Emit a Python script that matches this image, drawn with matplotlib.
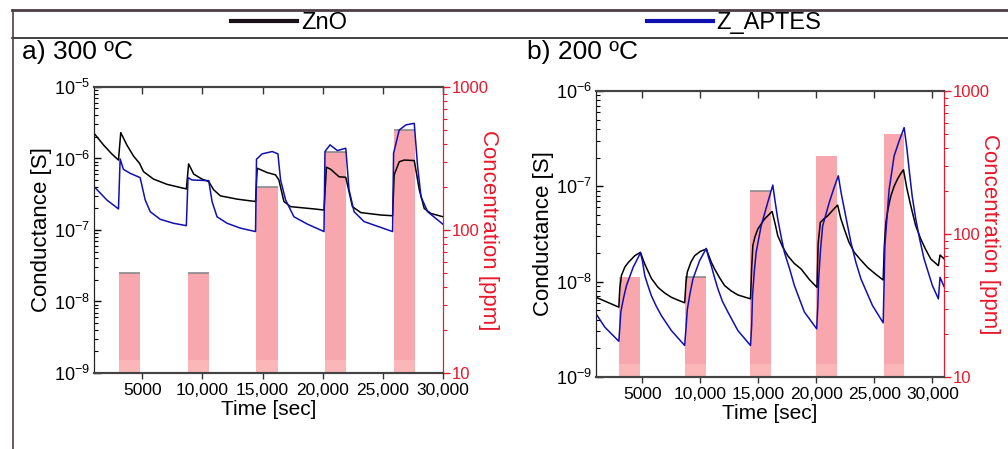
import matplotlib
matplotlib.use("Agg")
import matplotlib.pyplot as plt
from matplotlib.lines import Line2D
from matplotlib.ticker import LogLocator, NullFormatter, FixedLocator
import numpy as np

plt.rcParams['font.family'] = ['Liberation Sans', 'DejaVu Sans']
plt.rcParams['mathtext.fontset'] = 'custom'
plt.rcParams['mathtext.rm'] = 'Liberation Sans'

RED = '#e8192c'
BAR = '#f9a7ae'
BAR_LOW = '#fbb6b8'

# gas pulses (start time [s], concentration [ppm])
pulse_start_a = [3100, 8800, 14500, 20200, 25900]
pulse_start_b = [3000, 8700, 14300, 20000, 25800]
pulse_width = 1750
pulse_ppm = [50, 50, 200, 350, 500]
pulse_low_ppm = 12.3
top_line_a = [True, True, True, True, True]
top_line_b = [False, True, True, False, False]

# a) 300 C
t_a_zno = [1000, 1780, 2470, 3030, 3220, 3720, 4280, 4780, 5110, 5940, 7060, 8670,
           8860, 9280, 9970, 10530, 10940, 11500, 12890, 14420,
           14560, 15390, 16080, 16360, 16780, 17330, 19280, 20110,
           20310, 20670, 21360, 21920, 22470, 23170, 24830, 25810,
           25940, 26360, 26780, 27610, 28030, 28440, 29000, 30000]
g_a_zno = [2.25e-6, 1.55e-6, 1.16e-6, 9.5e-7, 2.3e-6, 1.55e-6, 1.08e-6, 8.55e-7, 6.55e-7, 5.15e-7, 4.35e-7, 3.75e-7,
           8.4e-7, 6.05e-7, 5.15e-7, 4.75e-7, 3.65e-7, 3.0e-7, 2.7e-7, 2.5e-7,
           7.3e-7, 6.35e-7, 5.9e-7, 5.0e-7, 2.5e-7, 2.12e-7, 1.97e-7, 1.9e-7,
           7.55e-7, 7.05e-7, 5.55e-7, 5.45e-7, 2.12e-7, 1.75e-7, 1.62e-7, 1.58e-7,
           5.9e-7, 9.0e-7, 9.5e-7, 9.35e-7, 3.65e-7, 2.0e-7, 1.7e-7, 1.53e-7]

t_a_apt = [1000, 2060, 3030, 3170, 3440, 4000, 4830, 5250, 5670, 6500, 7610, 8670,
           8810, 9140, 10530, 10810, 11220, 12060, 13170, 14420,
           14500, 14970, 15810, 16280, 16500, 16920, 17610, 18720, 20110,
           20190, 20610, 21220, 21920, 22190, 22610, 23440, 25810,
           25890, 26360, 26920, 27610, 27890, 28170, 28720, 29975]
g_a_apt = [4.05e-7, 2.63e-7, 1.97e-7, 9.85e-7, 7.05e-7, 6.2e-7, 5.4e-7, 2.63e-7, 1.8e-7, 1.41e-7, 1.24e-7, 1.15e-7,
           5.4e-7, 5.0e-7, 4.9e-7, 2.49e-7, 1.53e-7, 1.24e-7, 1.06e-7, 9.5e-8,
           9.75e-7, 1.16e-6, 1.25e-6, 1.16e-6, 5.0e-7, 2.63e-7, 1.53e-7, 1.21e-7, 9.5e-8,
           1.25e-6, 1.55e-6, 1.29e-6, 1.39e-6, 3.65e-7, 1.8e-7, 1.31e-7, 9.5e-8,
           1.18e-6, 2.5e-6, 2.95e-6, 3.1e-6, 7.7e-7, 2.92e-7, 1.8e-7, 1.21e-7]

# b) 200 C
t_b_zno = [1000, 2964, 3050, 3190, 3480, 3767, 4341, 4828, 5200, 5774, 6347, 6921, 7494, 8068, 8641,
           8760, 8870, 9180, 9501, 10000, 10505, 10935, 11221, 11650, 12081, 12650, 13228, 14318,
           14420, 14518, 14700, 14948, 15522, 16181, 16450, 16669, 17100, 17529, 18100, 18676, 19400, 20052,
           20150, 20338, 20600, 20969, 21400, 21829, 22100, 22403, 22800, 23263, 23800, 24410, 25100, 25757,
           25850, 25986, 26200, 26416, 26700, 26990, 27250, 27506, 27800, 28137, 28550, 28997, 29400, 29857,
           30516, 30660, 31000]
g_b_zno = [6.85e-9, 5.4e-9, 8.5e-9, 1.16e-8, 1.42e-8, 1.58e-8, 1.87e-8, 2.03e-8, 1.53e-8, 1.08e-8, 8.7e-9, 7.6e-9, 6.85e-9, 6.4e-9, 6.0e-9,
           1.0e-8, 1.26e-8, 1.6e-8, 1.87e-8, 2.08e-8, 2.2e-8, 1.6e-8, 1.36e-8, 1.1e-8, 9.1e-9, 8.0e-9, 7.25e-9, 6.6e-9,
           1.4e-8, 2.38e-8, 2.95e-8, 3.56e-8, 4.53e-8, 5.45e-8, 4.0e-8, 3.03e-8, 2.3e-8, 1.87e-8, 1.55e-8, 1.36e-8, 1.05e-8, 8.7e-9,
           2.5e-8, 4.18e-8, 4.5e-8, 4.9e-8, 5.6e-8, 6.35e-8, 4.6e-8, 3.56e-8, 2.6e-8, 2.03e-8, 1.7e-8, 1.41e-8, 1.2e-8, 1.04e-8,
           2.3e-8, 4.18e-8, 6.0e-8, 7.9e-8, 1.0e-7, 1.19e-7, 1.35e-7, 1.49e-7, 9.5e-8, 6.25e-8, 3.9e-8, 2.8e-8, 2.2e-8, 1.73e-8,
           1.47e-8, 1.9e-8, 1.74e-8]

t_b_apt = [1000, 1760, 2964, 3050, 3136, 3380, 3624, 4197, 4828, 5000, 5200, 5487, 5774, 6200, 6634, 7494, 8641,
           8760, 8870, 9100, 9358, 9931, 10505, 10700, 10935, 11221, 11508, 11900, 12368, 13228, 14318,
           14420, 14490, 14650, 14805, 15235, 15809, 16239, 16450, 16669, 16950, 17242, 17700, 18102, 18963, 20023,
           20120, 20195, 20360, 20539, 21113, 21500, 21887, 22150, 22403, 22700, 22976, 23400, 23836, 24840, 25757,
           25830, 25900, 26100, 26273, 26703, 27133, 27563, 27800, 27993, 28250, 28567, 28900, 29284, 30000, 30516,
           30660, 31000]
g_b_apt = [4.6e-9, 3.33e-9, 2.37e-9, 3.3e-9, 4.8e-9, 6.8e-9, 9.1e-9, 1.41e-8, 2.0e-8, 1.65e-8, 1.16e-8, 9.0e-9, 7.1e-9, 5.5e-9, 4.4e-9, 3.07e-9, 2.14e-9,
           3.3e-9, 5.1e-9, 7.5e-9, 1.07e-8, 1.66e-8, 2.23e-8, 1.8e-8, 1.47e-8, 1.1e-8, 8.4e-9, 6.2e-9, 4.8e-9, 3.07e-9, 2.14e-9,
           3.5e-9, 7.1e-9, 1.3e-8, 2.03e-8, 3.85e-8, 6.8e-8, 1.03e-7, 6.8e-8, 4.53e-8, 3.0e-8, 2.03e-8, 1.35e-8, 9.1e-9, 4.8e-9, 3.2e-9,
           5.5e-9, 1.07e-8, 2.2e-8, 3.85e-8, 6.8e-8, 9.5e-8, 1.29e-7, 8.3e-8, 5.8e-8, 3.8e-8, 2.58e-8, 1.6e-8, 1.07e-8, 5.6e-9, 3.7e-9,
           9.0e-9, 2.38e-8, 5.0e-8, 9.3e-8, 2.09e-7, 2.99e-7, 4.13e-7, 2.5e-7, 1.51e-7, 8.0e-8, 4.53e-8, 2.8e-8, 1.73e-8, 9.1e-9, 6.6e-9,
           1.11e-8, 8.9e-9]

x_ticks = [5000, 10000, 15000, 20000, 25000, 30000]
x_labels = ['5000', '10,000', '15,000', '20,000', '25,000', '30,000']


def draw_panel(rect, t1, g1, t2, g2, starts, tops, ylim, xlim):
    ax = fig.add_axes(rect)
    ax2 = ax.twinx()
    ax.set_zorder(ax2.get_zorder() + 1)
    ax.patch.set_visible(False)

    # concentration pulses
    ax2.bar(starts, np.array(pulse_ppm) - 10, width=pulse_width, bottom=10,
            align='edge', color=BAR, linewidth=0)
    ax2.bar(starts, pulse_low_ppm - 10, width=pulse_width, bottom=10,
            align='edge', color=BAR_LOW, linewidth=0)
    for s, p, show in zip(starts, pulse_ppm, tops):
        if show:
            ax2.hlines(p, s, s + pulse_width, color='#8a8a8a', lw=1.2)
    ax2.set_yscale('log')
    ax2.set_ylim(10, 1000)

    ax.plot(t1, g1, color='black', lw=1.1)
    ax.plot(t2, g2, color='#1010b0', lw=1.1)
    ax.set_yscale('log')
    ax.set_ylim(*ylim)
    ax.set_xlim(*xlim)

    ax.set_xticks(x_ticks)
    ax.set_xticklabels(x_labels, fontsize=12.5)
    ax.tick_params(axis='x', direction='out', length=4, width=1, color='#333333', pad=3)
    # top spine ticks point inward
    top = ax.secondary_xaxis('top')
    top.set_xticks(x_ticks)
    top.tick_params(axis='x', direction='in', length=5, width=1, color='#333333', labeltop=False)
    top.spines['top'].set_visible(False)

    ax.yaxis.set_major_locator(LogLocator(base=10, numticks=10))
    ax.yaxis.set_minor_locator(LogLocator(base=10, subs=np.arange(2, 10), numticks=10))
    ax.yaxis.set_minor_formatter(NullFormatter())
    ax.tick_params(axis='y', which='major', direction='in', length=5, width=1, labelsize=13, pad=3)
    ax.tick_params(axis='y', which='minor', direction='in', length=3, width=0.8)

    ax2.yaxis.set_major_locator(FixedLocator([10, 100, 1000]))
    ax2.set_yticklabels(['10', '100', '1000'])
    ax2.yaxis.set_minor_locator(LogLocator(base=10, subs=np.arange(2, 10), numticks=10))
    ax2.yaxis.set_minor_formatter(NullFormatter())
    ax2.tick_params(axis='y', which='major', direction='out', length=5, width=1,
                    colors=RED, labelsize=12, pad=1)
    ax2.tick_params(axis='y', which='minor', direction='out', length=3, width=0.8, colors=RED)

    for a in (ax, ax2):
        a.spines['top'].set_color('#444444')
        a.spines['bottom'].set_color('#444444')
        a.spines['left'].set_color('#222222')
        a.spines['right'].set_color(RED)
        a.spines['top'].set_linewidth(1.5)
        a.spines['bottom'].set_linewidth(1.5)

    ax.set_xlabel('Time [sec]', fontsize=15, labelpad=2)
    ax.set_ylabel('Conductance [S]', fontsize=16, labelpad=1)
    ax2.set_ylabel('Concentration [ppm]', fontsize=16, color=RED,
                   rotation=270, labelpad=8)
    return ax


fig = plt.figure(figsize=(10.08, 4.49), dpi=100)

draw_panel([0.0933, 0.1693, 0.3462, 0.637], t_a_zno, g_a_zno, t_a_apt, g_a_apt,
           pulse_start_a, top_line_a, (1e-9, 1e-5), (1000, 30000))
draw_panel([0.5913, 0.1604, 0.3452, 0.637], t_b_zno, g_b_zno, t_b_apt, g_b_apt,
           pulse_start_b, top_line_b, (1e-9, 1e-6), (1000, 31000))

fig.text(0.022, 0.884, 'a) 300 ºC', fontsize=19, va='center')
fig.text(0.523, 0.884, 'b) 200 ºC', fontsize=19, va='center')

# frame lines
fig.add_artist(Line2D([0.012, 1.0], [0.978, 0.978], color='#4a3f44', lw=2, transform=fig.transFigure))
fig.add_artist(Line2D([0.012, 1.0], [0.915, 0.915], color='#222222', lw=1.2, transform=fig.transFigure))
fig.add_artist(Line2D([0.013, 0.013], [0.0, 0.978], color='#4a3f44', lw=1.2, transform=fig.transFigure))

handles = [Line2D([], [], color='#1a1018', lw=3), Line2D([], [], color='#1010b0', lw=3)]
fig.legend(handles, ['ZnO', 'Z_APTES'], loc='center', bbox_to_anchor=(0.522, 0.949),
           ncol=2, frameon=False, handlelength=2.8, handletextpad=0.15,
           columnspacing=12.7, prop={'size': 17})

fig.savefig('out.png', dpi=100)
